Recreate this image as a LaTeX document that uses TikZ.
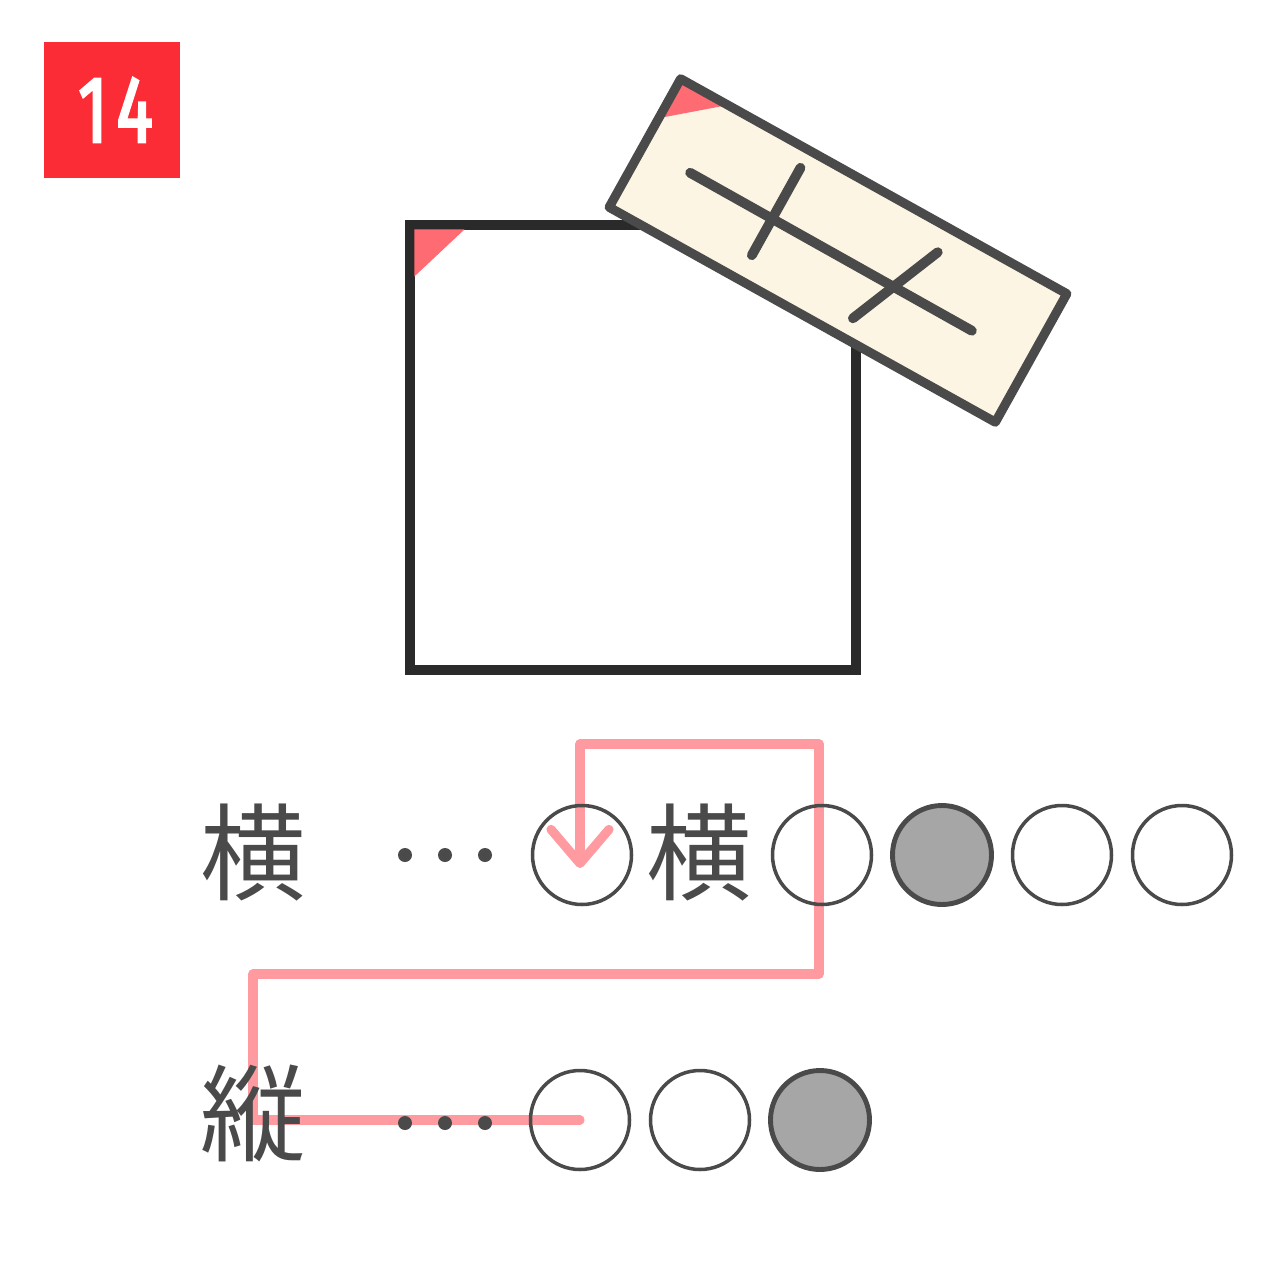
\documentclass[tikz,border=0pt]{standalone}
\usepackage{fontspec}
\newfontfamily\cjk{Noto Sans CJK JP}
\newfontfamily\numfont[FakeStretch=0.72, FakeBold=2.5]{Fira Sans}
\usetikzlibrary{positioning, calc, arrows.meta, backgrounds}
\definecolor{badgered}{HTML}{FB2C36}
\definecolor{ink}{HTML}{4A4A4A}
\definecolor{frame}{HTML}{2A2A2A}
\definecolor{cornerpink}{HTML}{FF6B72}
\definecolor{tapefill}{HTML}{FDF5E3}
\definecolor{routepink}{HTML}{FF9AA0}
\definecolor{shade}{HTML}{A6A6A6}

\begin{document}
\begin{tikzpicture}[x=0.1mm, y=-0.1mm,
    badge/.style={fill=badgered, minimum size=13.6mm, inner sep=0, text=white,
      font=\numfont\fontsize{27}{27}\selectfont},
    kanji/.style={text=ink, inner sep=0, font=\cjk\fontsize{30}{30}\selectfont},
    slot/.style={circle, draw=ink, line width=1pt, minimum size=9.9mm, inner sep=0},
    filledslot/.style={slot, fill=shade, line width=1.4pt},
    trail/.style={draw=routepink, line width=2.6pt, line cap=round, line join=round},
    penline/.style={draw=ink, line width=2.8pt, line cap=round}]

    % Page frame
    \useasboundingbox (0,0) rectangle (1280,1280);

    % Step number badge
    \node[badge] (num) at (112,110) {\kern2pt 1\kern2.5pt 4};

    % Square sheet with marked corner
    \node[draw=frame, line width=2.6pt, minimum width=44.6mm, minimum height=44.5mm,
          inner sep=0] (sheet) at (633,447.5) {};
    \fill[cornerpink] ($(sheet.north west)+(9,9)$) -- ++(50,0) -- ++(-50,47) -- cycle;

    % Tilted label strip on top of the sheet
    \begin{scope}[shift={(838,250.5)}, rotate=-29.1]
        \fill[tapefill] (-221,-73.5) rectangle (221,73.5);
        \fill[cornerpink] (-221,-73.5) -- ++(54,0) -- ++(-54,45) -- cycle;
        \draw[ink, line width=2.6pt, line join=round] (-221,-73.5) rectangle (221,73.5);
        \draw[penline] (-167,4) -- (156,5);
        \draw[penline] (-73,-54) -- (-73,46);
        \draw[penline] (88,-47) -- (46,52);
    \end{scope}

    % Row labels
    \node[kanji] (yoko) at (253,853) {横};
    \node[kanji] (yoko2) at (699,853) {横};
    \node[kanji] (tate) at (253,1113) {縦};

    % Dots after the labels
    \foreach \x in {405,445,485} {
        \fill[ink] (\x,855) circle (0.7mm);
        \fill[ink] (\x,1123) circle (0.7mm);
    }

    % Horizontal row of cells
    \node[slot] (a1) at (582,855) {};
    \node[slot] (a2) at (822,855) {};
    \node[filledslot] (a3) at (942,855) {};
    \node[slot] (a4) at (1062,855) {};
    \node[slot] (a5) at (1182,855) {};

    % Vertical row of cells
    \node[slot] (b1) at (580,1120) {};
    \node[slot] (b2) at (700,1120) {};
    \node[filledslot] (b3) at (820,1120) {};

    % Reading route, under everything else
    \begin{scope}[on background layer]
        \fill[white] (0,0) rectangle (1280,1280);
        \draw[trail, -{Straight Barb[length=3.4mm, width=5.8mm, round]}]
            (b1.center) -- (tate.center |- b1.center) -- ++(0,-146)
            -| ($(a2.center)+(-3,-111)$) -| ($(a1.center)+(-2,13)$);
    \end{scope}

\end{tikzpicture}
\end{document}
